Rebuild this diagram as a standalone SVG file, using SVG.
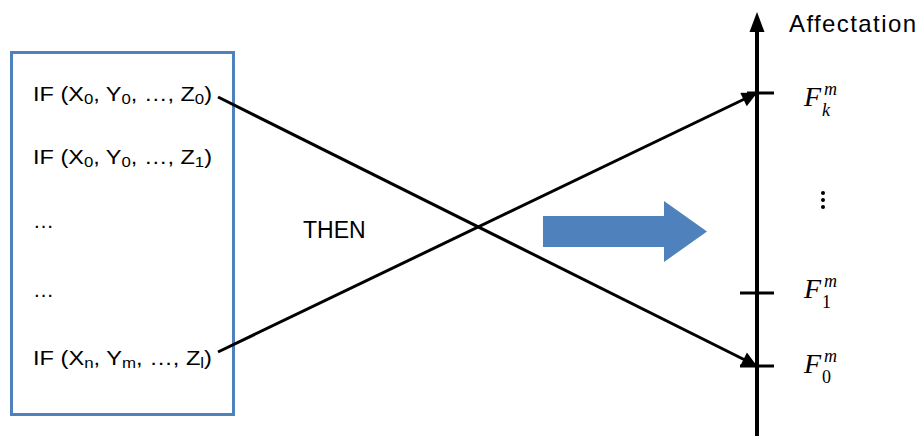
<svg xmlns="http://www.w3.org/2000/svg" width="922" height="436" viewBox="0 0 922 436">
<style>
.t{font-family:"Liberation Sans",Arial,sans-serif;font-size:21px;fill:#000}
.m{font-family:"Liberation Serif","DejaVu Serif",serif;font-style:italic;font-size:28px;fill:#000}
.s{font-family:"Liberation Serif","DejaVu Serif",serif;font-style:italic;font-size:18px;fill:#000}
.n{font-family:"Liberation Serif","DejaVu Serif",serif;font-size:18px;fill:#000}
.ln{stroke:#000;stroke-width:3;fill:none}
</style>
<defs>
<marker id="ah" viewBox="0 0 10 10" refX="10" refY="5" markerWidth="6" markerHeight="5" markerUnits="strokeWidth" orient="auto">
<path d="M0,0 L10,5 L0,10 Z" fill="#000"/>
</marker>
</defs>
<g id="rules">
<rect x="11.5" y="52.5" width="222" height="362" fill="#fff" stroke="#4F81BD" stroke-width="3"/>
<text class="t" x="33" y="101" textLength="179" lengthAdjust="spacingAndGlyphs">IF (X<tspan font-size="15" dy="3">0</tspan><tspan dy="-3">, Y</tspan><tspan font-size="15" dy="3">0</tspan><tspan dy="-3">, …, Z</tspan><tspan font-size="15" dy="3">0</tspan><tspan dy="-3">)</tspan></text>
<text class="t" x="33" y="164" textLength="179" lengthAdjust="spacingAndGlyphs">IF (X<tspan font-size="15" dy="3">0</tspan><tspan dy="-3">, Y</tspan><tspan font-size="15" dy="3">0</tspan><tspan dy="-3">, …, Z</tspan><tspan font-size="15" dy="3">1</tspan><tspan dy="-3">)</tspan></text>
<text class="t" x="33" y="228">…</text>
<text class="t" x="33" y="297">…</text>
<text class="t" x="33" y="365" textLength="179" lengthAdjust="spacingAndGlyphs">IF (X<tspan font-size="15" dy="3">n</tspan><tspan dy="-3">, Y</tspan><tspan font-size="15" dy="3">m</tspan><tspan dy="-3">, …, Z</tspan><tspan font-size="15" dy="3">l</tspan><tspan dy="-3">)</tspan></text>
</g>
<g id="then">
<text class="t" x="303" y="238" style="font-size:23px">THEN</text>
</g>
<g id="bigarrow">
<path d="M543,216 L664,216 L664,201 L707,231.5 L664,262 L664,247 L543,247 Z" fill="#4F81BD"/>
</g>
<g id="axis">
<line class="ln" x1="757" y1="436" x2="757" y2="30" style="stroke-width:4"/>
<path d="M757,12 L749.5,32 L764.5,32 Z" fill="#000"/>
<line class="ln" x1="747" y1="93" x2="774" y2="93"/>
<line class="ln" x1="740" y1="293" x2="774" y2="293"/>
<line class="ln" x1="740" y1="366" x2="774" y2="366"/>
<text class="t" x="789" y="32" style="font-size:24px" textLength="127" lengthAdjust="spacing">Affectation</text>
</g>
<g id="label-fk">
<text class="m" x="804" y="106">F</text>
<text class="s" x="824" y="95">m</text>
<text class="s" x="822" y="116">k</text>
</g>
<g id="label-f1">
<text class="m" x="804" y="298">F</text>
<text class="s" x="824" y="287">m</text>
<text class="n" x="822" y="308">1</text>
</g>
<g id="label-f0">
<text class="m" x="804" y="373">F</text>
<text class="s" x="824" y="362">m</text>
<text class="n" x="822" y="383">0</text>
</g>
<g id="dots">
<circle cx="823" cy="193" r="2"/>
<circle cx="823" cy="200" r="2"/>
<circle cx="823" cy="207" r="2"/>
</g>
<g id="connectors">
<line class="ln" x1="218" y1="97" x2="757" y2="366" marker-end="url(#ah)"/>
<line class="ln" x1="218" y1="352" x2="757" y2="93" marker-end="url(#ah)"/>
</g>
</svg>
